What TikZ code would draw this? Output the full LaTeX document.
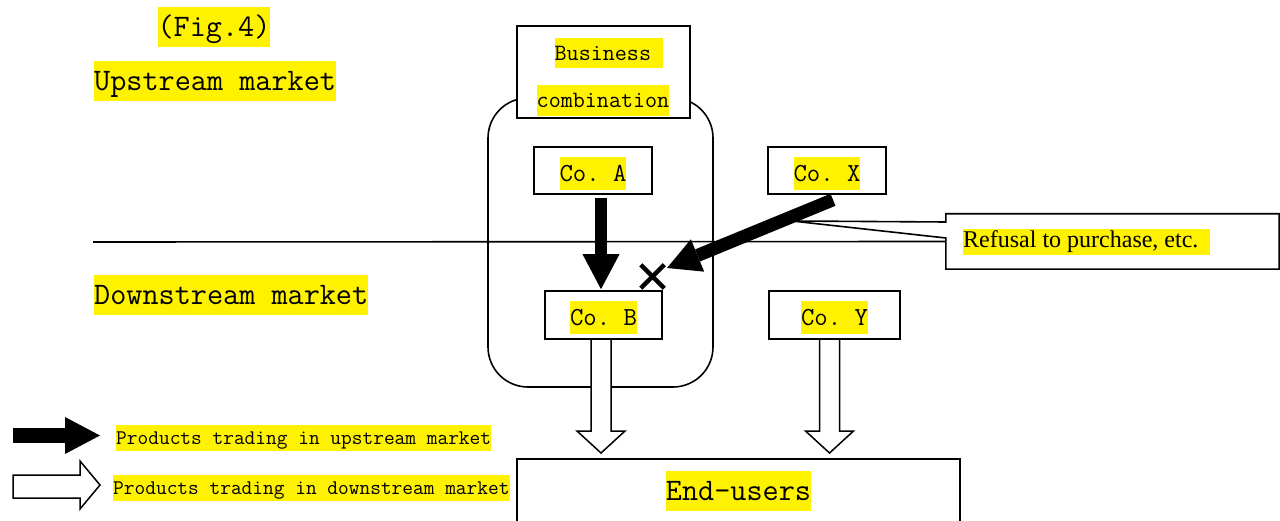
\documentclass[tikz,border=0pt]{standalone}
\usepackage{fontspec}
\setmonofont{Latin Modern Mono}
\newfontfamily\timesfont{Liberation Serif}
\usetikzlibrary{arrows.meta,calc,shapes.misc}
\newcommand\hollowdown[2]{%
  \draw[hollowarrow] let \p1=(#1), \p2=(#2) in
    (\x1-10pt,\y1) -- (\x1-10pt,\y2+22pt) -- (\x1-24pt,\y2+22pt) -- (\x1,\y2)
    -- (\x1+24pt,\y2+22pt) -- (\x1+10pt,\y2+22pt) -- (\x1+10pt,\y1);}
\begin{document}
\begin{tikzpicture}[x=1pt,y=-1pt,
  hl/.style={fill=yellow, inner xsep=0pt, inner ysep=1pt,
    text height={0.9*#1pt}, text depth={0.3*#1pt},
    font=\ttfamily\fontsize{#1}{#1}\selectfont},
  boxed/.style={draw, line width=1.6pt, inner sep=0pt},
  thinline/.style={line width=1.6pt},
  blackarrow/.style={line width=#1, -{Triangle[width=37pt,length=35pt,line width=0pt]}},
  hollowarrow/.style={draw, fill=white, line width=1.5pt, line join=miter},
]
\clip (0,0) rectangle (1280,521);
\fill[white] (0,0) rectangle (1280,521);

% titles
\node[hl=31.3] (fig) at (214,27) {(Fig.4)};
\node[hl=31.3, anchor=west] (up) at (94,81) {Upstream market};
\node[hl=31.3, anchor=west] (down) at (94,295) {Downstream market};

% group (business combination)
\node[boxed, rounded corners=40pt, minimum width=225, minimum height=289] (grp) at (600.5,242.5) {};
\node[boxed, fill=white, minimum width=173, minimum height=92] (bc) at (603.5,72) {};
\node[hl=23.4] (bc1) at (609,53) {Business\kern0.525em};
\node[hl=23.4] (bc2) at (603,100.5) {combination};

% callout
\node[inner sep=0pt, minimum width=333, minimum height=55] (call) at (1112.5,241.5) {};
\coordinate (ctip) at (792,221);
\draw[thinline, fill=white] (call.north west) -- (call.north east) -- (call.south east)
  -- (call.south west) -- ([yshift=3.5pt]call.west) -- (ctip) -- ([yshift=19.5pt]call.west) -- cycle;
\node[fill=yellow, inner xsep=0pt, inner ysep=2pt, anchor=west,
  font=\timesfont\fontsize{24}{24}\selectfont] (ref) at (963,242) {Refusal to purchase, etc.\kern0.5em};

% market border line
\coordinate (hs) at (93,242);
\draw[thinline] (hs) -- (call.west);

% companies
\node[boxed, fill=white, minimum width=118, minimum height=47] (coA) at (593,170.5) {};
\node[boxed, fill=white, minimum width=118, minimum height=47] (coX) at (827,170.5) {};
\node[hl=26] at ([yshift=-3pt]coA.center) {Co. A};
\node[hl=26] at ([yshift=-3pt]coX.center) {Co. X};

% end-users
\node[boxed, minimum width=443, minimum height=82] (eu) at (738.5,500) {};
\node[hl=31.3] at (738.5,491) {End-users};

% downstream hollow arrows
\coordinate (tB) at (601,453);
\coordinate (tY) at (829.5,453);
\coordinate (sB) at (601,339);
\coordinate (sY) at (829.5,339);
\hollowdown{sB}{tB}
\hollowdown{sY}{tY}

\node[boxed, fill=white, minimum width=117, minimum height=48] (coB) at (603.5,315) {};
\node[boxed, fill=white, minimum width=131, minimum height=48] (coY) at (834.5,315) {};
\node[hl=26] at ([yshift=-2.5pt]coB.center) {Co. B};
\node[hl=26] at ([yshift=-2.5pt]coY.center) {Co. Y};

% upstream trading arrows
\draw[blackarrow=12pt] ([xshift=8pt,yshift=-3pt]coA.south) -- ([xshift=-2.5pt,yshift=1pt]coB.north);
\coordinate (xs) at ($(coX.south)+(6,5)$);
\coordinate (xt) at (667,268);
\draw[line width=13pt, -{Triangle[width=35pt,length=33pt,line width=0pt]}] (xs) -- (xt);
\node[cross out, draw, line width=4.5pt, minimum size=19pt, inner sep=0pt] (refuse) at (652.5,276.5) {};

% legend
\coordinate (l1s) at (13,435.5);
\coordinate (l1e) at (100,435.5);
\draw[blackarrow=15pt] (l1s) -- (l1e);
\node[hl=20.8, anchor=west] (leg1) at (116,438) {Products trading in upstream market};
\draw[hollowarrow] (13,475) -- (80,475) -- (80,461) -- (100,485) -- (80,509) -- (80,498) -- (13,498) -- cycle;
\node[hl=20.8, anchor=west] (leg2) at (113,488) {Products trading in downstream market};
\end{tikzpicture}
\end{document}
